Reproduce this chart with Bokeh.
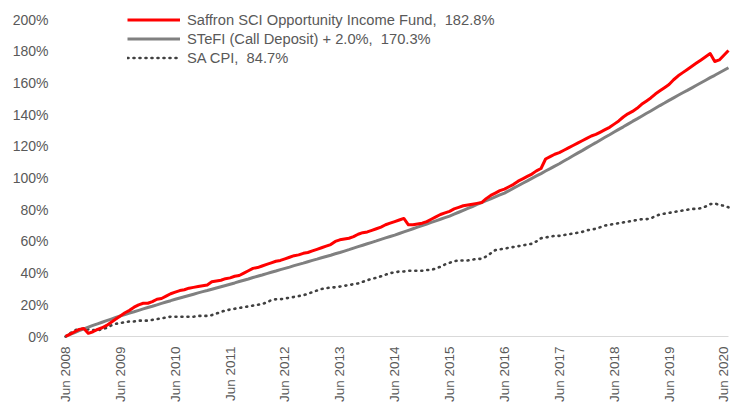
from math import pi
from bokeh.plotting import figure
from bokeh.models import (Range1d, FixedTicker, PrintfTickFormatter, Legend,
                          LegendItem, LabelSet, ColumnDataSource)
from bokeh.core.properties import value
from bokeh.embed import file_html
from bokeh.resources import INLINE

# ---- data (monthly cumulative returns in %, Jun 2008 .. Jul 2020) ----
series_names = ["Saffron SCI Opportunity Income Fund", "STeFI (Call Deposit) + 2.0%", "SA CPI"]
series_totals = [182.8, 170.3, 84.7]

fund = [
    0, 1.5, 3, 4.5, 5, 2, 3, 4.5, 5.5, 7, 9, 11,
    13, 15, 16.5, 18.5, 20, 21, 21, 22, 23.5, 24, 25.5, 27,
    28, 29, 29.5, 30.5, 31, 31.5, 32, 32.5, 34.5, 35, 35.5, 36.5,
    37, 38, 38.5, 40, 41.5, 43, 43.5, 44.5, 45.5, 46.5, 47.5, 48,
    49, 50, 51, 51.5, 52.5, 53, 54, 55, 56, 57, 58, 60,
    61, 61.5, 62, 63, 64.5, 65.5, 66, 67, 68, 69, 70.5, 71.5,
    72.5, 73.5, 74.5, 70.5, 70.5, 71, 71.5, 72.5, 74, 75.5, 77, 78,
    79, 80.5, 81.5, 82.5, 83, 83.5, 84, 84.5, 87, 89, 90.5, 92,
    93, 94.5, 96, 98, 99.5, 101, 102.5, 104.5, 106, 112, 113.5, 115,
    116, 117.5, 119, 120.5, 122, 123.5, 125, 126.5, 127.5, 129, 130.5, 132,
    134, 136, 138.5, 140.5, 142, 144, 146.5, 148.5, 150.5, 153, 155, 157,
    159, 162, 164.5, 166.5, 168.5, 170.5, 172.5, 174.5, 176.5, 178.5, 173.5, 174.5,
    177.5, 180.5,
]

stefi = [
    0, 1.3, 2.5, 3.7, 4.8, 5.9, 7, 8, 9, 10, 11, 12,
    13, 13.9, 14.8, 15.6, 16.5, 17.4, 18.3, 19.1, 20, 20.9, 21.8, 22.6,
    23.5, 24.3, 25.1, 25.9, 26.7, 27.5, 28.3, 29, 29.8, 30.6, 31.4, 32.2,
    33, 33.8, 34.7, 35.5, 36.3, 37.2, 38, 38.8, 39.7, 40.5, 41.3, 42.2,
    43, 43.8, 44.7, 45.5, 46.3, 47.2, 48, 48.8, 49.7, 50.5, 51.3, 52.2,
    53, 53.9, 54.8, 55.8, 56.7, 57.6, 58.5, 59.4, 60.3, 61.3, 62.2, 63.1,
    64, 65, 66, 67, 68, 69, 70, 71, 72, 73, 74, 75,
    76, 77.2, 78.4, 79.6, 80.8, 82, 83.3, 84.5, 85.7, 86.9, 88.1, 89.3,
    90.5, 92, 93.6, 95.1, 96.7, 98.2, 99.8, 101.3, 102.8, 104.4, 105.9, 107.5,
    109, 110.7, 112.3, 114, 115.7, 117.3, 119, 120.7, 122.3, 124, 125.7, 127.3,
    129, 130.7, 132.3, 134, 135.7, 137.3, 139, 140.7, 142.3, 144, 145.7, 147.3,
    149, 150.6, 152.2, 153.8, 155.3, 156.9, 158.5, 160.1, 161.7, 163.3, 164.8, 166.4,
    168, 169.6,
]

cpi = [
    0, 2, 4, 4.5, 5, 4.5, 4, 4, 4.5, 5.5, 7, 8,
    8.5, 9, 9.5, 9.5, 10, 10, 10, 10.5, 11, 11.5, 12, 12.5,
    12.5, 12.5, 12.5, 12.5, 12.5, 13, 13, 13, 13.5, 14.5, 15.5, 16.5,
    17, 17.5, 18, 18.5, 19, 19.5, 20, 20.5, 21.5, 23, 23.5, 23.5,
    24, 24.5, 25, 25.5, 26, 27, 28, 29, 30, 30.5, 31, 31,
    31.5, 32, 32.5, 33, 33.5, 34.5, 35.5, 36.5, 37, 38, 39, 40,
    40.5, 41, 41, 41.5, 41.5, 41.5, 41.5, 42, 42, 43, 44, 45.5,
    46.5, 47.5, 48, 48, 48, 48.5, 49, 49, 50.5, 52.5, 54.5, 55,
    55.5, 56, 56.5, 57, 57.5, 58, 58.5, 60, 62, 62.5, 63, 63.5,
    63.5, 64, 64.5, 65, 65.5, 66, 67, 67.5, 68, 69, 70, 70.5,
    71, 71.5, 72, 72.5, 73, 73.5, 74, 74, 74.5, 76, 77, 77.5,
    78, 78.5, 79, 79.5, 80, 80.5, 80.5, 81, 82, 83.5, 84, 83,
    82.5, 81.5,
]

x_tick_labels = ["Jun 2008", "Jun 2009", "Jun 2010", "Jun 2011", "Jun 2012", "Jun 2013",
                 "Jun 2014", "Jun 2015", "Jun 2016", "Jun 2017", "Jun 2018", "Jun 2019",
                 "Jun 2020"]
y_ticks = [0, 20, 40, 60, 80, 100, 120, 140, 160, 180, 200]

months = list(range(len(fund)))
FONT = "Liberation Sans"
TXT = "#595959"

# frame spans the canvas so that the legend and rotated month labels are not clipped
p = figure(width=732, height=404, output_backend="svg", toolbar_location=None,
           x_range=Range1d(-2.19, 145.88), y_range=Range1d(-42.9, 212.0),
           min_border_left=55, min_border_right=0, min_border_top=0, min_border_bottom=0)
p.outline_line_color = None
p.xgrid.visible = False
p.ygrid.visible = False
p.xaxis.visible = False

ya = p.yaxis[0]
ya.ticker = FixedTicker(ticks=y_ticks)
ya.formatter = PrintfTickFormatter(format="%d%%")
ya.axis_line_color = None
ya.major_tick_line_color = None
ya.minor_tick_line_color = None
ya.major_tick_out = 0
ya.major_tick_in = 0
ya.major_label_standoff = 7
ya.major_label_text_font = FONT
ya.major_label_text_font_size = "14px"
ya.major_label_text_color = TXT

# category axis line at 0%
p.line([months[0], months[-1]], [0, 0], line_color="#D9D9D9", line_width=1)

lbl_src = ColumnDataSource(dict(x=[12 * i for i in range(len(x_tick_labels))],
                                y=[0] * len(x_tick_labels), text=x_tick_labels))
p.add_layout(LabelSet(x="x", y="y", text="text", source=lbl_src, angle=pi / 2,
                      text_align="right", text_baseline="middle", y_offset=-10,
                      text_font=value(FONT), text_font_size="13.5px", text_color=TXT))

r_cpi = p.line(months, cpi, line_color="#404040", line_width=2.6, line_dash="1 5",
               line_cap="round")
r_stefi = p.line(months, stefi, line_color="#808080", line_width=3, line_join="round")
r_fund = p.line(months, fund, line_color="#FF0000", line_width=3, line_join="round")

items = [LegendItem(label=f"{n},  {t:.1f}%", renderers=[r])
         for n, t, r in zip(series_names, series_totals, [r_fund, r_stefi, r_cpi])]
legend = Legend(items=items, location=(72, 337), orientation="vertical",
                border_line_color=None, background_fill_alpha=0, padding=0, margin=0,
                spacing=0, glyph_width=53, glyph_height=19, label_height=19,
                label_standoff=7, label_text_font=FONT, label_text_font_size="14.7px",
                label_text_color=TXT)
p.add_layout(legend)

open("out.html", "w").write(file_html(p, INLINE))
